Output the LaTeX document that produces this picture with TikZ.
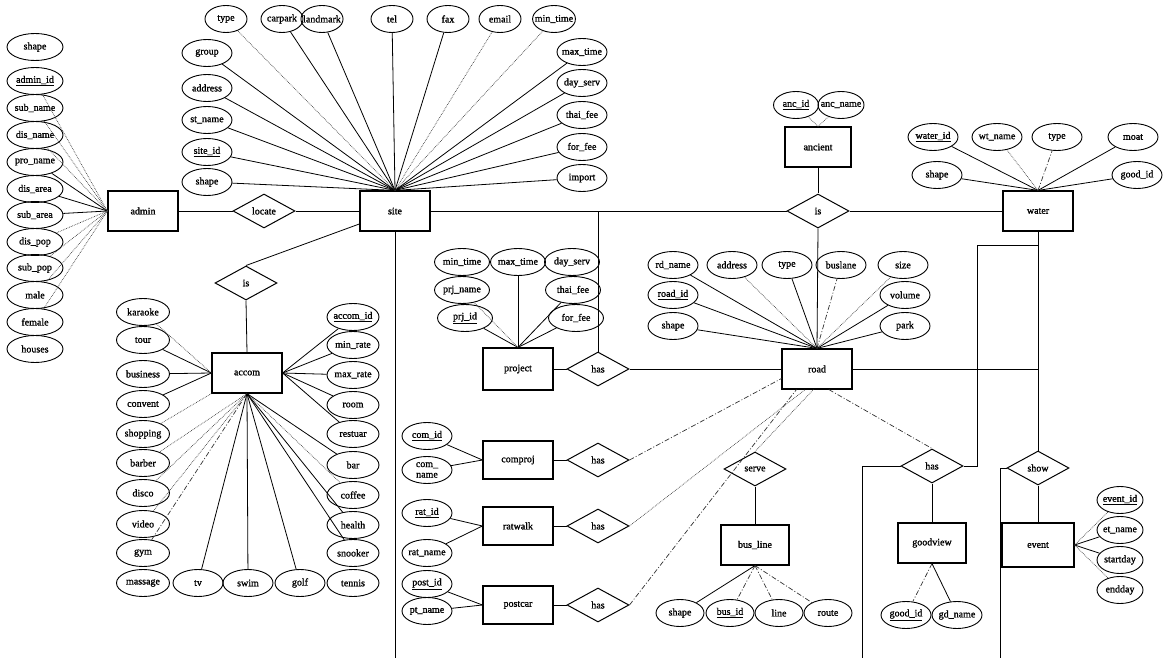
\documentclass[tikz,border=0pt]{standalone}
\usepackage{fontspec}
\setmainfont{Liberation Serif}[BoldFont=Liberation Serif, BoldFeatures={FakeBold=1.2}]
\usetikzlibrary{shapes.geometric}
\newcommand\erfs{\fontsize{10}{10.5}\selectfont\bfseries}

\begin{document}
\begin{tikzpicture}[
  x=1pt, y=-1pt,
  erent/.style = {draw, line width=1.2pt, minimum width=70, minimum height=40, inner sep=1pt, font=\erfs},
  errel/.style = {draw, line width=1pt, diamond, aspect=1.8, minimum width=62, minimum height=34, inner sep=0pt, font=\erfs},
  erattr/.style = {draw, line width=0.9pt, ellipse, inner xsep=-4pt, inner ysep=1pt, minimum width=50, minimum height=27, font=\erfs},
  erln/.style = {line width=0.8pt},
  erdot/.style = {densely dotted, line width=0.7pt, black!75},
  erdd/.style = {dash pattern=on 5pt off 2pt on 1pt off 2pt, line width=0.7pt, black!80}
]
  \fill[white] (0,0) rectangle (1172,660);
  % admin
  \node[erent] (admin) at (143,211) {admin};
  \node[errel] (locate) at (264,211) {locate};
  \foreach \n/\t/\y in {adsh/shape/47, adid/{\underline{admin\_id}}/81, adsb/sub\_name/108,
      addn/dis\_name/135, adpn/pro\_name/162, adda/dis\_area/189, adsa/sub\_area/215,
      addp/dis\_pop/242, adsp/sub\_pop/268, adml/male/295, adfm/female/322, adhs/houses/349}
    \node[erattr, minimum width=56] (\n) at (35,\y) {\t};
  \foreach \n in {adpn,adda,adsa}
    \draw[erln] (admin.west) -- (\n);
  \foreach \n in {adid,adsb,addn,addp,adsp,adml,adfm}
    \draw[erdot] (admin.west) -- (\n);

  % site
  \node[erent] (site) at (395,211) {site};
  \foreach \n/\t/\x in {sttp/type/226, stcp/carpark/282, stlm/landmark/322, sttl/tel/392,
      stfx/fax/448, stem/email/500, stmn/min\_time/554}
    \node[erattr, minimum width=42] (\n) at (\x,19) {\t};
  \foreach \n/\t/\y in {stgp/group/53, stad/address/88, stsn/st\_name/120,
      stid/{\underline{site\_id}}/152, stsh/shape/182}
    \node[erattr] (\n) at (207,\y) {\t};
  \foreach \n/\t/\y in {stmx/max\_time/52, stds/day\_serv/83, sttf/thai\_fee/115,
      stff/for\_fee/147, stim/import/178}
    \node[erattr] (\n) at (582,\y) {\t};
  \foreach \n in {stcp,stlm,sttl,stfx,stgp,stad,stsn,stid,stsh,stmx,stds,sttf,stff,stim}
    \draw[erln] (site.north) -- (\n);
  \foreach \n in {sttp,stem,stmn}
    \draw[erdot] (site.north) -- (\n);

  % accom
  \node[errel] (isacc) at (246,283) {is};
  \node[erent] (accom) at (247,373) {accom};
  \foreach \n/\t/\y in {acka/karaoke/312, actr/tour/340, acbs/business/374, accv/convent/404,
      acsh/shopping/434, acbb/barber/463, acds/disco/493, acvd/video/524, acgy/gym/553,
      acms/massage/583}
    \node[erattr, minimum width=53] (\n) at (143,\y) {\t};
  \foreach \n/\t/\y in {acid/{\underline{accom\_id}}/317, acmn/min\_rate/345, acmx/max\_rate/375,
      acrm/room/405, acrs/restuar/434, acbr/bar/465, accf/coffee/495, achl/health/525,
      acsn/snooker/553, actn/tennis/583}
    \node[erattr, minimum width=52] (\n) at (353,\y) {\t};
  \foreach \n/\t/\x in {actv/tv/198, acsw/swim/248, acgf/golf/300}
    \node[erattr] (\n) at (\x,583) {\t};
  \draw[erln] (isacc.north) -- (site.-160);
  \draw[erln] (isacc.south) -- (accom.north);
  \foreach \n in {actr,acbs,accv}
    \draw[erln] (accom.west) -- (\n);
  \draw[erdot] (accom.west) -- (acka);
  \draw[erdot] (accom.south west) -- (acsh);
  \foreach \n in {acbb,acds,acvd,accf}
    \draw[erdot] (accom.south) -- (\n);
  \draw[erdd] (accom.south) -- (acgy);
  \foreach \n in {actv,acsw,acgf,acbr,achl,acsn}
    \draw[erln] (accom.south) -- (\n);
  \foreach \n in {acid,acmn,acmx,acrm,acrs}
    \draw[erln] (accom.east) -- (\n);

  % project
  \node[erent, minimum height=42] (project) at (518,369) {project};
  \node[errel] (hasp) at (598,369) {has};
  \foreach \n/\t/\x/\y in {pjmn/min\_time/462/262, pjmx/max\_time/518/262, pjds/day\_serv/572/262,
      pjnm/prj\_name/462/290, pjtf/thai\_fee/573/290, pjid/{\underline{prj\_id}}/465/318,
      pjff/for\_fee/576/318}
    \node[erattr, minimum width=55] (\n) at (\x,\y) {\t};
  \foreach \n in {pjid,pjmx,pjtf,pjff}
    \draw[erln] (project.north) -- (\n);
  \draw[erdot] (project.north) -- (pjnm);

  % road
  \node[erent] (road) at (817,369) {road};
  \foreach \n/\t/\x/\y in {rdnm/rd\_name/673/265, rdad/address/732/265, rdtp/type/787/265,
      rdbl/buslane/841/265, rdsz/size/903/265, rdid/{\underline{road\_id}}/673/295,
      rdvl/volume/905/295, rdsh/shape/673/326, rdpk/park/905/326}
    \node[erattr] (\n) at (\x,\y) {\t};
  \foreach \n in {rdnm,rdid,rdsh,rdtp,rdvl,rdpk}
    \draw[erln] (road.north) -- (\n);
  \foreach \n in {rdad,rdsz}
    \draw[erdot] (road.north) -- (\n);
  \draw[erdd] (road.north) -- (rdbl);

  % ancient
  \node[erent, minimum width=66] (ancient) at (818,147) {ancient};
  \node[errel] (isanc) at (818,211) {is};
  \node[erattr, minimum width=45] (anid) at (796,105) {\underline{anc\_id}};
  \node[erattr, minimum width=45] (annm) at (841,105) {anc\_name};
  \draw[erdot] (ancient.north) -- (anid);
  \draw[erdot] (ancient.north) -- (annm);

  % water
  \node[erent] (water) at (1038,211) {water};
  \foreach \n/\t/\x/\y in {wtid/{\underline{water\_id}}/933/137, wtnm/wt\_name/997/137,
      wttp/type/1057/137, wtmt/moat/1133/137, wtsh/shape/937/175, wtgd/good\_id/1137/175}
    \node[erattr] (\n) at (\x,\y) {\t};
  \foreach \n in {wtid,wtmt,wtsh,wtgd}
    \draw[erln] (water.north) -- (\n);
  \draw[erdot] (water.north) -- (wtnm);
  \draw[erdd] (water.north) -- (wttp);

  % goodview, event
  \node[errel] (hasg) at (932,466) {has};
  \node[errel] (show) at (1038,468) {show};
  \node[erent, minimum width=68] (goodview) at (932,543) {goodview};
  \node[erent, minimum width=72, minimum height=44] (event) at (1038,545) {event};
  \node[erattr] (gdid) at (906,615) {\underline{good\_id}};
  \node[erattr] (gdnm) at (957,615) {gd\_name};
  \foreach \n/\t/\y in {evid/{\underline{event\_id}}/500, evnm/et\_name/530,
      evsd/startday/560, eved/endday/590}
    \node[erattr, minimum width=46] (\n) at (1120,\y) {\t};
  \draw[erdd] (goodview.south) -- (gdid);
  \draw[erln] (goodview.south) -- (gdnm);
  \foreach \n in {evnm,evsd}
    \draw[erln] (event.east) -- (\n);
  \foreach \n in {evid,eved}
    \draw[erdot] (event.east) -- (\n);

  % comproj, ratwalk, postcar
  \node[erent, minimum height=38] (comproj) at (518,460) {comproj};
  \node[errel] (hasc) at (598,460) {has};
  \node[erent, minimum height=38] (ratwalk) at (518,526) {ratwalk};
  \node[errel] (hasr) at (598,526) {has};
  \node[erent, minimum height=38] (postcar) at (518,605) {postcar};
  \node[errel] (hasq) at (598,605) {has};
  \node[erattr] (cpid) at (427,436) {\underline{com\_id}};
  \node[erattr, align=center, inner ysep=0pt] (cpnm) at (427,470) {com\_\\name};
  \node[erattr] (rwid) at (427,513) {\underline{rat\_id}};
  \node[erattr] (rwnm) at (427,553) {rat\_name};
  \node[erattr] (pcid) at (427,584) {\underline{post\_id}};
  \node[erattr] (pcnm) at (427,611) {pt\_name};
  \foreach \e/\a/\b in {comproj/cpid/cpnm, ratwalk/rwid/rwnm, postcar/pcid/pcnm} {
    \draw[erln] (\e.west) -- (\a);
    \draw[erln] (\e.west) -- (\b);
  }
  \draw[erln] (comproj.east) -- (hasc.west);
  \draw[erln] (ratwalk.east) -- (hasr.west);
  \draw[erln] (postcar.east) -- (hasq.west);

  % bus_line
  \node[errel] (serve) at (755,469) {serve};
  \node[erent, minimum width=68] (busline) at (755,545) {bus\_line};
  \foreach \n/\t/\x in {blsh/shape/680, blid/{\underline{bus\_id}}/730, blln/line/779, blrt/route/828}
    \node[erattr, minimum width=48] (\n) at (\x,613) {\t};
  \draw[erln] (serve.south) -- (busline.north);
  \draw[erln] (busline.south) -- (blsh);
  \foreach \n in {blid,blln,blrt}
    \draw[erdd] (busline.south) -- (\n);

  % relationships
  \coordinate (wknee) at (977,245);
  \coordinate (gdend) at (862,658);
  \coordinate (shend) at (1000,658);
  \coordinate (stend) at (395,658);
  \draw[erln] (admin.east) -- (locate.west);
  \draw[erln] (locate.east) -- (site.west);
  \draw[erln] (site.east) -- (isanc.west);
  \draw[erln] (isanc.east) -- (water.west);
  \draw[erln] (ancient.south) -- (isanc.north);
  \draw[erln] (isanc.south) -- (road.north);
  \draw[erln] (hasp.north) -- (hasp.north |- site.east);
  \draw[erln] (project.east) -- (hasp.west);
  \draw[erln] (hasp.east) -- (road.west);
  \draw[erln] (site.south) -- (stend);
  \draw[erln] (water.south) -- (show.north);
  \draw[erln] (hasg.east) -| (wknee) -- (wknee -| water.south);
  \draw[erln] (road.east) -- (road.east -| water.south);
  \draw[erln] (hasg.west) -| (gdend);
  \draw[erln] (show.west) -| (shend);
  \draw[erln] (hasg.south) -- (goodview.north);
  \draw[erln] (show.south) -- (event.north);
  \draw[erdd] (hasc.east) -- (road.-165);
  \draw[erdot] (hasr.east) -- (road.-120);
  \draw[erdd] (hasq.east) -- (road.-135);
  \draw[erdot] (serve.north) -- (road.-100);
  \draw[erdd] (road.-60) -- (hasg.north);
\end{tikzpicture}
\end{document}
